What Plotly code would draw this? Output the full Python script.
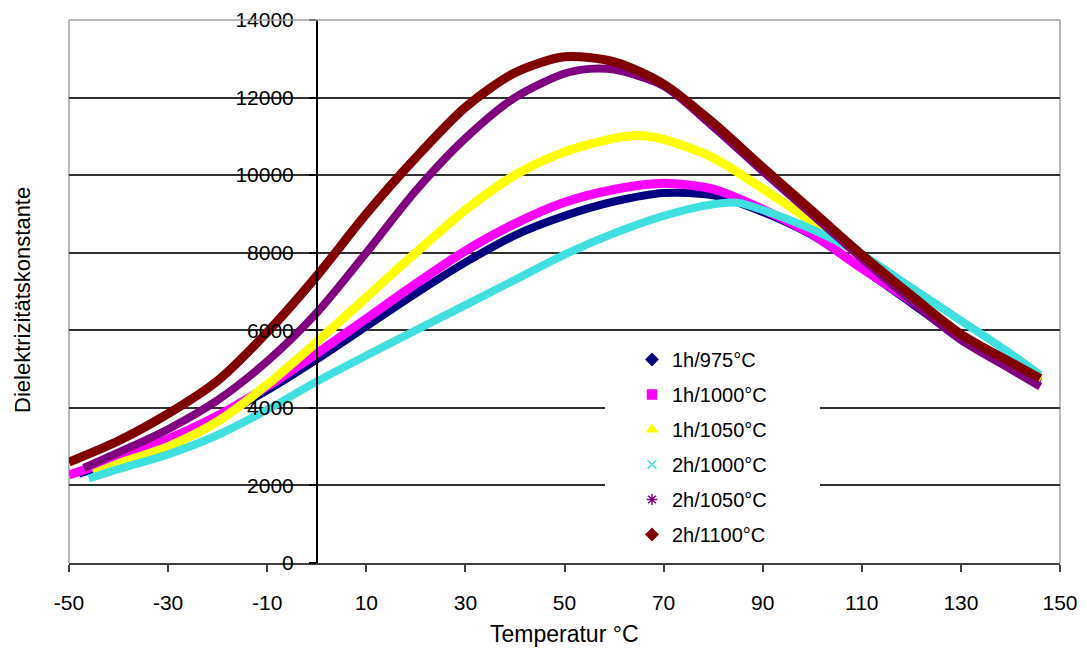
import plotly.graph_objects as go

# ---- data ----
t_975_1h = [-48, -40, -30, -20, -10, 0, 10, 20, 30, 40, 50, 60, 70, 80, 90, 100, 110, 120, 130, 140, 146]
v_975_1h = [2300, 2650, 3150, 3750, 4450, 5250, 6100, 6950, 7750, 8450, 8950, 9320, 9540, 9480, 9050, 8450, 7600, 6700, 5800, 5050, 4650]

t_1000_1h = [-50, -40, -30, -20, -10, 0, 10, 20, 30, 40, 50, 60, 70, 80, 90, 100, 110, 120, 130, 140, 146]
v_1000_1h = [2270, 2700, 3200, 3800, 4550, 5400, 6300, 7200, 8050, 8750, 9300, 9630, 9790, 9640, 9120, 8470, 7600, 6750, 5850, 5050, 4700]

t_1050_1h = [-45, -40, -30, -20, -10, 0, 10, 20, 30, 40, 50, 60, 65, 70, 80, 90, 100, 110, 120, 130, 140, 146]
v_1050_1h = [2300, 2560, 3000, 3650, 4600, 5700, 6850, 8000, 9100, 10000, 10600, 10950, 11020, 10920, 10450, 9650, 8800, 7900, 6850, 5850, 5100, 4700]

t_1000_2h = [-46, -40, -30, -20, -10, 0, 10, 20, 30, 40, 50, 60, 70, 80, 85, 90, 100, 110, 120, 130, 140, 146]
v_1000_2h = [2180, 2420, 2800, 3300, 3950, 4680, 5350, 6000, 6650, 7300, 7950, 8500, 8950, 9250, 9290, 9100, 8600, 7950, 7100, 6250, 5400, 4850]

t_1050_2h = [-47, -40, -30, -20, -10, 0, 10, 20, 30, 40, 50, 55, 60, 70, 80, 90, 100, 110, 120, 130, 140, 146]
v_1050_2h = [2450, 2850, 3450, 4200, 5200, 6450, 8000, 9600, 10950, 12000, 12620, 12740, 12720, 12300, 11250, 10100, 8980, 7850, 6750, 5750, 5000, 4550]

t_1100_2h = [-50, -40, -30, -20, -10, 0, 10, 20, 30, 40, 50, 60, 70, 80, 90, 100, 110, 120, 130, 140, 146]
v_1100_2h = [2600, 3150, 3850, 4700, 5950, 7400, 9000, 10450, 11750, 12640, 13050, 12920, 12350, 11350, 10200, 9080, 7950, 6900, 5900, 5180, 4760]

names = ["1h/975°C", "1h/1000°C", "1h/1050°C", "2h/1000°C", "2h/1050°C", "2h/1100°C"]
colors = ["#000080", "#FF00FF", "#FFFF00", "#40E0E0", "#800080", "#800000"]
symbols = ["diamond", "square", "triangle-up", "x-thin-open", "asterisk-open", "diamond"]
widths = [8, 9, 9, 8, 8, 9]

x_ticks = [-50, -30, -10, 10, 30, 50, 70, 90, 110, 130, 150]
y_ticks = [0, 2000, 4000, 6000, 8000, 10000, 12000, 14000]

series = [(t_975_1h, v_975_1h), (t_1000_1h, v_1000_1h), (t_1050_1h, v_1050_1h),
          (t_1000_2h, v_1000_2h), (t_1050_2h, v_1050_2h), (t_1100_2h, v_1100_2h)]

FONT = "Arial, Liberation Sans, sans-serif"

fig = go.Figure()
for i, (t, v) in enumerate(series):
    fig.add_trace(go.Scatter(
        x=t, y=v, mode="lines", showlegend=False, hoverinfo="skip",
        line=dict(color=colors[i], width=widths[i], shape="spline", smoothing=0.8),
    ))
for i in range(len(names)):
    fig.add_trace(go.Scatter(
        x=[None], y=[None], mode="markers", name=names[i], legendgroup=names[i],
        marker=dict(color=colors[i], symbol=symbols[i], size=9,
                    line=dict(color=colors[i], width=1.5)),
    ))

# page body has an 8px margin, so figure pixels = screen pixels - 8
OFF = 8
W, H = 1087, 655
PL, PR, PT, PB = 69, 1060, 20, 563          # plot area on screen
L = PL - OFF
R = W - (PR - OFF)
T = PT - OFF
B = H - (PB - OFF)
pw = PR - PL
ph = PB - PT

def px_x(px):
    return (px - PL) / pw

def px_y(py):
    return (PB - py) / ph

fig.update_layout(
    width=W, height=H,
    margin=dict(l=L, r=R, t=T, b=B, pad=0, autoexpand=False),
    paper_bgcolor="white", plot_bgcolor="white",
    font=dict(family=FONT, size=20, color="black"),
    xaxis=dict(
        range=[-50, 150], tickvals=x_ticks, ticktext=[str(v) for v in x_ticks],
        showgrid=False, zeroline=False, showline=True, linecolor="#404040", linewidth=1.5,
        ticks="outside", ticklen=7, tickcolor="#404040", tickwidth=1.5,
        tickfont=dict(size=21), ticklabelstandoff=13, automargin=False,
    ),
    yaxis=dict(
        range=[0, 14000], tickvals=y_ticks, ticktext=[str(v) for v in y_ticks],
        anchor="free", position=0.25,
        showgrid=True, gridcolor="#303030", gridwidth=1.5,
        zeroline=False, showline=True, linecolor="black", linewidth=1.5,
        ticks="outside", ticklen=7, tickcolor="black", tickwidth=1.5,
        tickfont=dict(size=21), ticklabelstandoff=11, automargin=False,
    ),
    legend=dict(
        x=px_x(632), y=px_y(340), xanchor="left", yanchor="top",
        bgcolor="rgba(0,0,0,0)", borderwidth=0,
        font=dict(size=20), tracegroupgap=6, traceorder="grouped",
    ),
    shapes=[
        dict(type="rect", xref="paper", yref="paper",
             x0=px_x(605), x1=px_x(820), y0=px_y(555), y1=px_y(338),
             fillcolor="white", line=dict(width=0), layer="above"),
        dict(type="line", xref="paper", yref="paper", x0=0, x1=1, y0=1, y1=1,
             line=dict(color="#A0A0A0", width=1.5), layer="above"),
        dict(type="line", xref="paper", yref="paper", x0=0, x1=0, y0=0, y1=1,
             line=dict(color="#A0A0A0", width=1.5), layer="below"),
        dict(type="line", xref="paper", yref="paper", x0=1, x1=1, y0=0, y1=1,
             line=dict(color="#A0A0A0", width=1.5), layer="below"),
    ],
    annotations=[
        dict(text="Dielektrizitätskonstante", xref="paper", yref="paper",
             x=px_x(22), y=px_y(300), textangle=-90, showarrow=False,
             xanchor="center", yanchor="middle", font=dict(size=22)),
        dict(text="Temperatur °C", xref="paper", yref="paper",
             x=0.5, y=px_y(634), showarrow=False,
             xanchor="center", yanchor="middle", font=dict(size=23)),
    ],
)

fig.write_html("out.html")
